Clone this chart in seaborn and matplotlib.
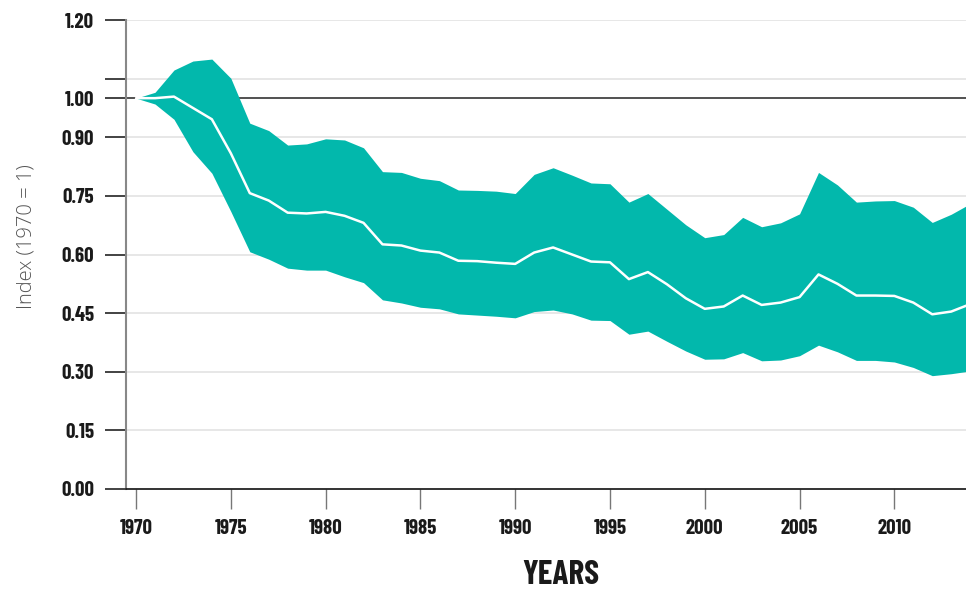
import matplotlib
matplotlib.use("Agg")
import matplotlib.pyplot as plt
import seaborn as sns
import pandas as pd

years = list(range(1970, 2015))
index_mid = [1.000, 1.000, 1.004, 0.975, 0.946, 0.859, 0.757, 0.738, 0.707, 0.705,
             0.709, 0.699, 0.681, 0.626, 0.623, 0.610, 0.605, 0.584, 0.583, 0.579,
             0.576, 0.605, 0.618, 0.600, 0.582, 0.580, 0.537, 0.555, 0.524, 0.488,
             0.461, 0.467, 0.495, 0.471, 0.477, 0.491, 0.549, 0.525, 0.495, 0.495,
             0.494, 0.477, 0.447, 0.454, 0.473]
index_upper = [1.000, 1.015, 1.072, 1.095, 1.100, 1.051, 0.936, 0.917, 0.880, 0.883,
               0.896, 0.893, 0.873, 0.812, 0.810, 0.795, 0.789, 0.765, 0.764, 0.762,
               0.756, 0.805, 0.822, 0.803, 0.783, 0.781, 0.734, 0.756, 0.716, 0.676,
               0.643, 0.651, 0.695, 0.671, 0.681, 0.704, 0.810, 0.778, 0.734, 0.737,
               0.738, 0.721, 0.682, 0.703, 0.730]
index_lower = [1.000, 0.985, 0.946, 0.863, 0.808, 0.710, 0.607, 0.588, 0.565, 0.560,
               0.560, 0.543, 0.528, 0.484, 0.476, 0.465, 0.461, 0.448, 0.445, 0.442,
               0.438, 0.454, 0.458, 0.448, 0.432, 0.431, 0.396, 0.404, 0.378, 0.353,
               0.332, 0.333, 0.349, 0.328, 0.330, 0.341, 0.368, 0.351, 0.329, 0.329,
               0.325, 0.311, 0.290, 0.295, 0.302]

y_ticks = [0.00, 0.15, 0.30, 0.45, 0.60, 0.75, 0.90, 1.00, 1.05, 1.20]
y_labels = ["0.00", "0.15", "0.30", "0.45", "0.60", "0.75", "0.90", "1.00", "", "1.20"]
grid_levels = [0.15, 0.30, 0.45, 0.60, 0.75, 0.90, 1.05, 1.20]
x_ticks = [1970, 1975, 1980, 1985, 1990, 1995, 2000, 2005, 2010]
x_labels = [str(v) for v in x_ticks]

df = pd.DataFrame({"year": years, "mid": index_mid,
                   "upper": index_upper, "lower": index_lower})

sns.set_theme(style="white")
plt.rcParams['font.family'] = ['DejaVu Sans']

COND = ['Barlow Condensed', 'Saira ExtraCondensed', 'DejaVu Sans']
LIGHT = ['Open Sans', 'Lato', 'DejaVu Sans']
TEAL = '#02b8ac'
W, H = 966, 591

fig = plt.figure(figsize=(W / 100, H / 100), dpi=100)
ax = fig.add_axes([126 / W, (H - 489) / H, 1 - 126 / W, (489 - 20) / H])

for v in grid_levels:
    ax.axhline(v, color='#e3e3e3', lw=1.2, zorder=0)
ax.axhline(1.0, color='#333333', lw=1.2, zorder=1)

ax.fill_between(df["year"], df["lower"], df["upper"], color=TEAL, lw=0, zorder=2)
sns.lineplot(data=df, x="year", y="mid", ax=ax, color='white', lw=1.8, zorder=3)

ax.set_xlim(1969.47, 2013.78)
ax.set_ylim(0, 1.2)

ax.set_yticks(y_ticks)
ax.set_yticklabels(y_labels, fontfamily=COND, fontweight='bold', fontsize=15, color='#1a1a1a')
ax.set_xticks(x_ticks)
ax.set_xticklabels(x_labels, fontfamily=COND, fontweight='bold', fontsize=15, color='#1a1a1a')

ax.tick_params(axis='y', direction='out', length=15, width=1.2, color='#222222', pad=8, left=True)
ax.tick_params(axis='x', direction='out', length=14.5, width=1.0, color='#777777', pad=7, bottom=True)

for s in ['top', 'right']:
    ax.spines[s].set_visible(False)
ax.spines['left'].set_color('#888888')
ax.spines['left'].set_linewidth(1.5)
ax.spines['bottom'].set_color('#111111')
ax.spines['bottom'].set_linewidth(1.2)

ax.set_xlabel("YEARS", fontfamily=COND, fontweight='bold', fontsize=24, color='#1a1a1a',
              va='center')
ax.xaxis.set_label_coords((561 - 126) / (W - 126), -(575 - 489) / (489 - 20))
ax.set_ylabel("")
fig.text(27 / W, 1 - 237 / H, "Index (1970 = 1)", rotation=90, ha='center', va='center',
         fontfamily=LIGHT, fontweight=300, fontsize=14.5, color='#555555')
ax.grid(False)

fig.savefig("out.png", dpi=100)
